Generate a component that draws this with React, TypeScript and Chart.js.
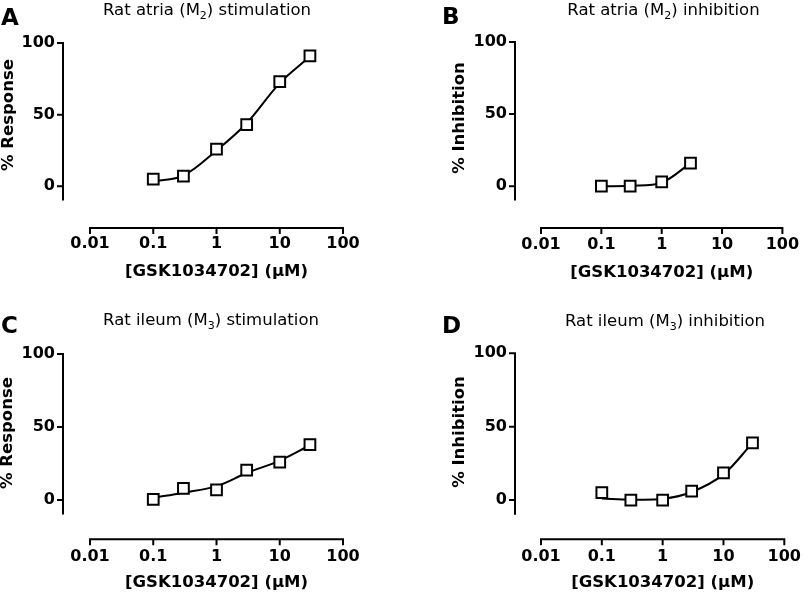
import React, { useEffect, useRef } from 'react';
import { Chart, registerables } from 'chart.js';

Chart.register(...registerables);

const FAMILY = "'DejaVu Sans', sans-serif";
Chart.defaults.font.family = FAMILY;

// ---- data ----
const concentrations = [0.1, 0.3, 1, 3, 10, 30];
const concentrationsAtriaInhibition = [0.1, 0.3, 1, 3];
const xTickValues = [0.01, 0.1, 1, 10, 100];
const xTickLabels = ['0.01', '0.1', '1', '10', '100'];
const yTickValues = [0, 50, 100];
const yTickLabels = ['0', '50', '100'];
const yMin = -10;
const yMax = 100;

const atriaStimulation = [5, 7, 26, 43, 73, 91];
const atriaStimulationFit = [3.5, 7.5, 25, 44, 72, 90.5];
const atriaInhibition = [0, 0, 3, 16];
const atriaInhibitionFit = [0, 0.3, 2.5, 16];
const ileumStimulation = [0.5, 8, 7, 20.5, 26, 38];
const ileumStimulationFit = [1.5, 5, 9.5, 18.5, 27, 37.5];
const ileumInhibition = [5, 0, 0, 6, 18.5, 39];
const ileumInhibitionFit = [1, 0.3, 0.8, 5.5, 17.5, 39];

const xTitle = '[GSK1034702] (µM)';

type Geo = {
  left: number; top: number; w: number; h: number;
  area: { left: number; right: number; top: number; bottom: number };
  yAxisX: number; xAxisY: number; xLabelY: number; xTitleY: number;
  yTitleX: number; yTitleY: number; yLabelRight: number;
  letterPos: [number, number]; titlePos: [number, number];
};

type PanelCfg = {
  letter: string;
  title: [string, string, string];
  yTitle: string;
  xs: number[];
  ys: number[];
  fit: number[];
  geo: Geo;
};

const panels: PanelCfg[] = [
  {
    letter: 'A', title: ['Rat atria (M', '2', ') stimulation'], yTitle: '% Response',
    xs: concentrations, ys: atriaStimulation, fit: atriaStimulationFit,
    geo: {
      left: 0, top: 0, w: 405, h: 297,
      area: { left: 90, right: 343, top: 40, bottom: 200.6 },
      yAxisX: 63, xAxisY: 228, xLabelY: 244, xTitleY: 272, yTitleX: 9, yTitleY: 115, yLabelRight: 55,
      letterPos: [1, 25], titlePos: [207, 15],
    },
  },
  {
    letter: 'B', title: ['Rat atria (M', '2', ') inhibition'], yTitle: '% Inhibition',
    xs: concentrationsAtriaInhibition, ys: atriaInhibition, fit: atriaInhibitionFit,
    geo: {
      left: 405, top: 0, w: 430, h: 297,
      area: { left: 136, right: 389, top: 40, bottom: 200.6 },
      yAxisX: 110, xAxisY: 228, xLabelY: 244.5, xTitleY: 273, yTitleX: 55, yTitleY: 118, yLabelRight: 102,
      letterPos: [37, 24], titlePos: [258.5, 15],
    },
  },
  {
    letter: 'C', title: ['Rat ileum (M', '3', ') stimulation'], yTitle: '% Response',
    xs: concentrations, ys: ileumStimulation, fit: ileumStimulationFit,
    geo: {
      left: 0, top: 297, w: 405, h: 298,
      area: { left: 90, right: 343, top: 57, bottom: 217.6 },
      yAxisX: 63, xAxisY: 242.3, xLabelY: 259.7, xTitleY: 285.5, yTitleX: 8, yTitleY: 136, yLabelRight: 55,
      letterPos: [1, 36], titlePos: [211, 28],
    },
  },
  {
    letter: 'D', title: ['Rat ileum (M', '3', ') inhibition'], yTitle: '% Inhibition',
    xs: concentrations, ys: ileumInhibition, fit: ileumInhibitionFit,
    geo: {
      left: 405, top: 297, w: 430, h: 298,
      area: { left: 136, right: 389, top: 56.3, bottom: 217.7 },
      yAxisX: 110, xAxisY: 242.3, xLabelY: 259.7, xTitleY: 285.5, yTitleX: 55, yTitleY: 135, yLabelRight: 102,
      letterPos: [37, 36], titlePos: [260, 29],
    },
  },
];

function drawTitle(ctx: CanvasRenderingContext2D, parts: [string, string, string], cx: number, baseline: number) {
  const mainFont = `16.5px ${FAMILY}`;
  const subFont = `11px ${FAMILY}`;
  ctx.font = mainFont;
  const w0 = ctx.measureText(parts[0]).width;
  const w2 = ctx.measureText(parts[2]).width;
  ctx.font = subFont;
  const w1 = ctx.measureText(parts[1]).width;
  let x = cx - (w0 + w1 + w2) / 2;
  ctx.textAlign = 'left';
  ctx.textBaseline = 'alphabetic';
  ctx.fillStyle = '#000';
  ctx.font = mainFont;
  ctx.fillText(parts[0], x, baseline);
  x += w0;
  ctx.font = subFont;
  ctx.fillText(parts[1], x, baseline + 4);
  x += w1;
  ctx.font = mainFont;
  ctx.fillText(parts[2], x, baseline);
}

function Panel({ cfg }: { cfg: PanelCfg }) {
  const ref = useRef<HTMLCanvasElement>(null);
  useEffect(() => {
    const g = cfg.geo;
    const prismPlugin = {
      id: 'prismAxes',
      afterDraw(chart: any) {
        const { ctx, scales } = chart;
        const x = scales.x;
        const y = scales.y;
        ctx.save();
        ctx.strokeStyle = '#000';
        ctx.lineWidth = 2;
        ctx.lineCap = 'butt';
        // y axis
        const ax = g.yAxisX;
        ctx.beginPath();
        ctx.moveTo(ax, y.getPixelForValue(y.max) - 1);
        ctx.lineTo(ax, y.getPixelForValue(y.min));
        y.ticks.forEach((t: any) => {
          const py = y.getPixelForValue(t.value);
          ctx.moveTo(ax - 6, py);
          ctx.lineTo(ax, py);
        });
        ctx.stroke();
        // x axis
        const ay = g.xAxisY;
        ctx.beginPath();
        ctx.moveTo(x.getPixelForValue(x.min) - 1, ay);
        ctx.lineTo(x.getPixelForValue(x.max) + 1, ay);
        x.ticks.forEach((t: any) => {
          const px = x.getPixelForValue(t.value);
          ctx.moveTo(px, ay);
          ctx.lineTo(px, ay + 6);
        });
        ctx.stroke();
        ctx.fillStyle = '#000';
        // y title (rotated)
        ctx.save();
        ctx.translate(g.yTitleX, g.yTitleY);
        ctx.rotate(-Math.PI / 2);
        ctx.font = `bold 16.5px ${FAMILY}`;
        ctx.textAlign = 'center';
        ctx.textBaseline = 'middle';
        ctx.fillText(cfg.yTitle, 0, 0);
        ctx.restore();
        // panel letter
        ctx.font = `bold 23px ${FAMILY}`;
        ctx.textAlign = 'left';
        ctx.textBaseline = 'alphabetic';
        ctx.fillText(cfg.letter, g.letterPos[0], g.letterPos[1]);
        // title
        drawTitle(ctx, cfg.title, g.titlePos[0], g.titlePos[1]);
        ctx.restore();
      },
    };

    const chart = new Chart(ref.current as HTMLCanvasElement, {
      type: 'scatter',
      data: {
        datasets: [
          {
            label: 'data',
            data: cfg.xs.map((v, i) => ({ x: v, y: cfg.ys[i] })),
            showLine: false,
            pointStyle: 'rect',
            pointRadius: 7.6,
            pointBorderWidth: 2,
            pointBackgroundColor: '#fff',
            pointBorderColor: '#000',
            order: 0,
          },
          {
            label: 'fit',
            data: cfg.xs.map((v, i) => ({ x: v, y: cfg.fit[i] })),
            showLine: true,
            pointRadius: 0,
            borderColor: '#000',
            borderWidth: 2,
            tension: 0.35,
            fill: false,
            order: 1,
          } as any,
        ],
      },
      options: {
        animation: false,
        responsive: false,
        devicePixelRatio: 1,
        events: [],
        layout: { padding: { left: 0, top: g.area.top, right: g.w - g.area.right, bottom: 0 } },
        plugins: { legend: { display: false }, tooltip: { enabled: false }, title: { display: false } },
        scales: {
          x: {
            type: 'logarithmic',
            position: 'bottom',
            min: xTickValues[0],
            max: xTickValues[xTickValues.length - 1],
            grid: { display: false, drawTicks: false },
            border: { display: false },
            afterBuildTicks: (s: any) => { s.ticks = xTickValues.map((v) => ({ value: v })); },
            afterFit: (s: any) => { s.height = g.h - g.area.bottom; },
            ticks: {
              autoSkip: false, maxRotation: 0, minRotation: 0,
              padding: g.xLabelY - g.area.bottom - 8,
              color: '#000',
              font: { family: FAMILY, size: 16, weight: 'bold', lineHeight: 1 },
              callback: (_v: any, i: number) => xTickLabels[i],
            },
            title: {
              display: true, text: xTitle, color: '#000',
              font: { family: FAMILY, size: 16.5, weight: 'bold', lineHeight: 1 },
              padding: { top: 0, bottom: g.h - g.xTitleY - 8.25 },
            },
          },
          y: {
            type: 'linear',
            position: 'left',
            min: yMin,
            max: yMax,
            grid: { display: false, drawTicks: false },
            border: { display: false },
            afterBuildTicks: (s: any) => { s.ticks = yTickValues.map((v) => ({ value: v })); },
            afterFit: (s: any) => { s.width = g.area.left; },
            ticks: {
              padding: g.area.left - g.yLabelRight,
              color: '#000',
              font: { family: FAMILY, size: 16, weight: 'bold', lineHeight: 1 },
              callback: (_v: any, i: number) => yTickLabels[i],
            },
            title: { display: false },
          },
        },
      } as any,
      plugins: [prismPlugin],
    });
    return () => chart.destroy();
  }, [cfg]);
  const g = cfg.geo;
  return (
    <canvas
      ref={ref}
      width={g.w}
      height={g.h}
      style={{ position: 'absolute', left: g.left, top: g.top, width: g.w, height: g.h }}
    />
  );
}

export default function App() {
  return (
    <div style={{ position: 'fixed', left: 0, top: 0, width: 810, height: 595, overflow: 'hidden', background: '#fff' }}>
      {panels.map((p) => (
        <Panel key={p.letter} cfg={p} />
      ))}
    </div>
  );
}
